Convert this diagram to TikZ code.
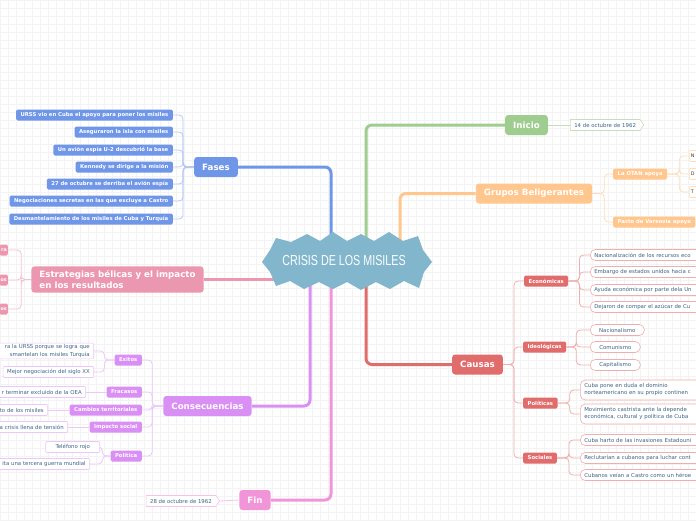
\documentclass[tikz,border=0pt]{standalone}
\usepackage{fontspec}
\usepackage{graphicx}
\setmainfont{DejaVu Sans}
\newfontfamily\titlefont{Liberation Sans}
\usetikzlibrary{shapes.symbols}
\definecolor{cblue}{HTML}{7096E8}
\definecolor{cbluel}{HTML}{B4C7F4}
\definecolor{cgreen}{HTML}{9FCD8F}
\definecolor{cgreenl}{HTML}{C4E0B9}
\definecolor{corange}{HTML}{FFC68D}
\definecolor{corangel}{HTML}{FFDDBA}
\definecolor{cred}{HTML}{E06C6C}
\definecolor{credl}{HTML}{F0AFAF}
\definecolor{cpink}{HTML}{F295D8}
\definecolor{cpinkl}{HTML}{F7C3EA}
\definecolor{cviolet}{HTML}{D98FF3}
\definecolor{cviol}{HTML}{EBC8F8}
\definecolor{crose}{HTML}{EA97AF}
\definecolor{crosel}{HTML}{F3C2D0}
\definecolor{ccenter}{HTML}{82B6CC}
\definecolor{ctext}{HTML}{3F6585}
\definecolor{cgrid}{HTML}{F3F3F3}
\pgfdeclarelayer{bg}
\pgfdeclarelayer{lines}
\pgfsetlayers{bg,lines,main}
\begin{document}
\begin{tikzpicture}[x=1pt,y=-1pt,
  mainbox/.style={rounded corners=3pt, text=white, font=\fontsize{8.7}{11}\selectfont\bfseries, minimum height=20pt, inner xsep=8pt, inner ysep=2pt},
  subbox/.style={rounded corners=1.5pt, text=white, font=\fontsize{5.3}{6.4}\selectfont\bfseries, minimum height=11pt, inner xsep=4.5pt, inner ysep=1pt},
  leafbox/.style={fill=white, rounded corners=1pt, text=ctext, font=\fontsize{5.4}{7}\selectfont, minimum height=11pt, inner xsep=4pt, inner ysep=1.5pt, line width=0.6pt},
  pillbox/.style={leafbox, rounded corners=5pt},
  datebox/.style={leafbox, rounded corners=0pt, shape=signal, signal to=east, signal pointer angle=110},
  edgeleaf/.style={leafbox, draw=corangel, anchor=west, text width=30pt, align=left, text=black!80, inner xsep=1.5pt, font=\fontsize{4.8}{6}\selectfont},
  brline/.style={line width=3pt, rounded corners=6pt},
  twig/.style={line width=0.8pt, rounded corners=4pt}]
\useasboundingbox (0,0) rectangle (696,520);
\begin{pgfonlayer}{bg}
\fill[white] (0,0) rectangle (696,520);
\draw[cgrid, line width=0.6pt, step=8pt] (0,0) grid (696,520);
\end{pgfonlayer}

% centre
\fill[ccenter] (276,238) -- (291,242) -- (307,234) -- (320,241) -- (333,232) -- (347,241) -- (361,234) -- (374,241) -- (389,232) -- (403,241) -- (418,236)
  -- (423,250) -- (432,262) -- (424,272)
  -- (419,288) -- (404,281) -- (390,289) -- (376,282) -- (361,290) -- (347,282) -- (333,289) -- (319,282) -- (304,289) -- (290,281) -- (276,286)
  -- (270,272) -- (262,262) -- (270,250) -- cycle;
\node[text=white, font=\titlefont\fontsize{14.5}{16}\selectfont] (center) at (344,261) {\scalebox{0.74}[1]{CRISIS DE LOS MISILES}};
\coordinate (cF) at (331,255);
\coordinate (cI) at (366,255);
\coordinate (cG) at (400,255);
\coordinate (cC) at (366,270);
\coordinate (cFn) at (331,270);
\coordinate (cCo) at (310,270);
\coordinate (cE) at (285,279.5);

% main branches
\node[mainbox, fill=cblue] (fases) at (216,167) {Fases};
\node[mainbox, fill=cgreen] (ini) at (526.5,125) {Inicio};
\node[mainbox, fill=corange] (gb) at (534,193.5) {Grupos Beligerantes};
\node[mainbox, fill=cred] (ca) at (477.5,364.5) {Causas};
\node[mainbox, fill=cpink] (fin) at (255,500) {Fin};
\node[mainbox, fill=cviolet] (cons) at (207.5,406) {Consecuencias};
\node[mainbox, fill=crose, align=left, inner ysep=4pt] (estr) at (117.5,279.5) {Estrategias bélicas y el impacto\\en los resultados};

\begin{pgfonlayer}{lines}
\draw[brline, cblue] (fases.east) -| (cF);
\draw[brline, cgreen] (ini.west) -| (cI);
\draw[brline, corange] (gb.west) -| (cG);
\draw[brline, cred] (ca.west) -| (cC);
\draw[brline, cpink] (fin.east) -| (cFn);
\draw[brline, cviolet] (cons.east) -| (cCo);
\draw[brline, crose] (estr.east) -- (cE);
\end{pgfonlayer}

% Fases
\node[subbox, fill=cblue, anchor=east] (f1) at (173,115) {URSS vio en Cuba el apoyo para poner los misiles};
\node[subbox, fill=cblue, anchor=east] (f2) at (173,132) {Aseguraron la isla con misiles};
\node[subbox, fill=cblue, anchor=east] (f3) at (173,150) {Un avión espía U-2 descubrió la base};
\node[subbox, fill=cblue, anchor=east] (f4) at (173,167) {Kennedy se dirige a la misión};
\node[subbox, fill=cblue, anchor=east] (f5) at (173,184) {27 de octubre se derriba el avión espía};
\node[subbox, fill=cblue, anchor=east] (f6) at (173,201) {Negociaciones secretas en las que excluye a Castro};
\node[subbox, fill=cblue, anchor=east] (f7) at (173,219) {Desmantelamiento de los misiles de Cuba y Turquía};
\begin{pgfonlayer}{lines}
\foreach \n in {f1,f2,f3,f4,f5,f6,f7} \draw[twig, cbluel] (fases.west) -- ++(-11,0) |- (\n.east);
\end{pgfonlayer}

% Estrategias
\node[subbox, fill=crose, anchor=east, text width=6.5pt, align=right, inner xsep=1pt, font=\fontsize{4.8}{6}\selectfont\bfseries] (s1) at (8,250) {ra};
\node[subbox, fill=crose, anchor=east, text width=6.5pt, align=right, inner xsep=1pt, font=\fontsize{4.8}{6}\selectfont\bfseries] (s2) at (8,280) {os};
\node[subbox, fill=crose, anchor=east, text width=6.5pt, align=right, inner xsep=1pt, font=\fontsize{4.8}{6}\selectfont\bfseries] (s3) at (8,309) {os};
\begin{pgfonlayer}{lines}
\foreach \n in {s1,s2,s3} \draw[twig, crosel] (estr.west) -- ++(-10,0) |- (\n.east);
\end{pgfonlayer}

% Consecuencias
\node[subbox, fill=cviolet, anchor=east] (ex) at (142,360) {Exitos};
\node[subbox, fill=cviolet, anchor=east] (fr) at (142,392) {Fracasos};
\node[subbox, fill=cviolet, anchor=east] (ct) at (142,410) {Cambios territoriales};
\node[subbox, fill=cviolet, anchor=east] (is) at (142,427) {Impacto social};
\node[subbox, fill=cviolet, anchor=east] (po) at (142,456) {Politica};
\begin{pgfonlayer}{lines}
\foreach \n in {ex,fr,ct,is,po} \draw[twig, cviol] (cons.west) -- ++(-11,0) |- (\n.east);
\end{pgfonlayer}
\node[leafbox, draw=cviol, anchor=east, text width=110pt, align=right, font=\fontsize{5.4}{7.5}\selectfont] (e1) at (94,351) {ra la URSS porque se logra que\\smantelan los misiles Turquía};
\node[leafbox, draw=cviol, anchor=east] (e2) at (94,372) {Mejor negociación del siglo XX};
\node[leafbox, draw=cviol, anchor=east, text width=100pt, align=right] (fr1) at (86,392) {r terminar excluido de la OEA};
\node[leafbox, draw=cviol, anchor=east, text width=70pt, align=right] (ct1) at (48,410) {to de los misiles};
\node[leafbox, draw=cviol, anchor=east, text width=80pt, align=right] (is1) at (68,427) {a crisis llena de tensión};
\node[leafbox, draw=cviol, anchor=east, minimum width=54pt] (p1) at (100,447) {Teléfono rojo};
\node[leafbox, draw=cviol, anchor=east, text width=100pt, align=right] (p2) at (90,464) {ita una tercera guerra mundial};
\begin{pgfonlayer}{lines}
\foreach \n in {e1,e2} \draw[twig, cviol] (ex.west) -- ++(-10,0) |- (\n.east);
\draw[twig, cviol] (fr.west) -- (fr1.east);
\draw[twig, cviol] (ct.west) -- (ct1.east);
\draw[twig, cviol] (is.west) -- (is1.east);
\foreach \n in {p1,p2} \draw[twig, cviol] (po.west) -- ++(-8,0) |- (\n.east);
\end{pgfonlayer}

% Fin / Inicio
\node[datebox, draw=cpinkl, anchor=east] (fd) at (220,501) {28 de octubre de 1962};
\node[datebox, draw=cgreenl, anchor=west] (idt) at (570,125) {14 de octubre de 1962};
\begin{pgfonlayer}{lines}
\draw[twig, cpinkl] (fin.west) -- (fd.east);
\draw[twig, cgreenl] (ini.east) -- (idt.west);
\end{pgfonlayer}

% Grupos Beligerantes
\node[subbox, fill=corange, anchor=west] (otan) at (613,174) {La OTAN apoya};
\node[subbox, fill=corange, anchor=west] (pv) at (613,222) {Pacto de Varsovia apoya};
\node[edgeleaf] (o1) at (689,156) {N};
\node[edgeleaf] (o2) at (689,174) {D};
\node[edgeleaf] (o3) at (689,192) {T};
\begin{pgfonlayer}{lines}
\foreach \n in {otan,pv} \draw[twig, corangel] (gb.east) -- ++(12,0) |- (\n.west);
\foreach \n in {o1,o2,o3} \draw[twig, corangel] (otan.east) -- ++(12,0) |- (\n.west);
\end{pgfonlayer}

% Causas
\node[subbox, fill=cred, anchor=west] (eco) at (524,281) {Económicas};
\node[subbox, fill=cred, anchor=west] (ideo) at (523,347) {Ideológicas};
\node[subbox, fill=cred, anchor=west] (pol) at (523,403) {Políticas};
\node[subbox, fill=cred, anchor=west] (soc) at (523,458) {Sociales};
\begin{pgfonlayer}{lines}
\foreach \n in {eco,ideo,pol,soc} \draw[twig, credl] (ca.east) -- ++(11,0) |- (\n.west);
\end{pgfonlayer}
\node[pillbox, draw=credl, anchor=west, text width=130pt, align=left] (k1) at (590,255) {Nacionalización de los recursos eco};
\node[pillbox, draw=credl, anchor=west, text width=130pt, align=left] (k2) at (590,272) {Embargo de estados unidos hacia c};
\node[pillbox, draw=credl, anchor=west, text width=130pt, align=left] (k3) at (590,290) {Ayuda económica por parte dela Un};
\node[pillbox, draw=credl, anchor=west, text width=130pt, align=left] (k4) at (590,307) {Dejaron de compar el azúcar de Cu};
\node[pillbox, draw=credl, anchor=west, minimum width=54pt] (i1) at (590,330) {Nacionalismo};
\node[pillbox, draw=credl, anchor=west, minimum width=50pt] (i2) at (590,347) {Comunismo};
\node[pillbox, draw=credl, anchor=west, minimum width=50pt] (i3) at (590,365) {Capitalismo};
\node[pillbox, draw=credl, anchor=west, text width=130pt, align=left, minimum height=20pt] (q1) at (580,390) {Cuba pone en duda el dominio\\norteamericano en su propio continen};
\node[pillbox, draw=credl, anchor=west, text width=130pt, align=left, minimum height=20pt] (q2) at (580,414) {Movimiento castrista ante la depende\\económica, cultural y política de Cuba};
\node[pillbox, draw=credl, anchor=west, text width=130pt, align=left] (r1) at (580,440) {Cuba harto de las invasiones Estadouni};
\node[pillbox, draw=credl, anchor=west, text width=130pt, align=left] (r2) at (580,458) {Reclutarían a cubanos para luchar cont};
\node[pillbox, draw=credl, anchor=west, text width=130pt, align=left] (r3) at (580,475) {Cubanos veían a Castro como un héroe};
\begin{pgfonlayer}{lines}
\foreach \n in {k1,k2,k3,k4} \draw[twig, credl] (eco.east) -- ++(11,0) |- (\n.west);
\foreach \n in {i1,i2,i3} \draw[twig, credl] (ideo.east) -- ++(10,0) |- (\n.west);
\foreach \n in {q1,q2} \draw[twig, credl] (pol.east) -- ++(12,0) |- (\n.west);
\foreach \n in {r1,r2,r3} \draw[twig, credl] (soc.east) -- ++(12,0) |- (\n.west);
\end{pgfonlayer}
\end{tikzpicture}
\end{document}
